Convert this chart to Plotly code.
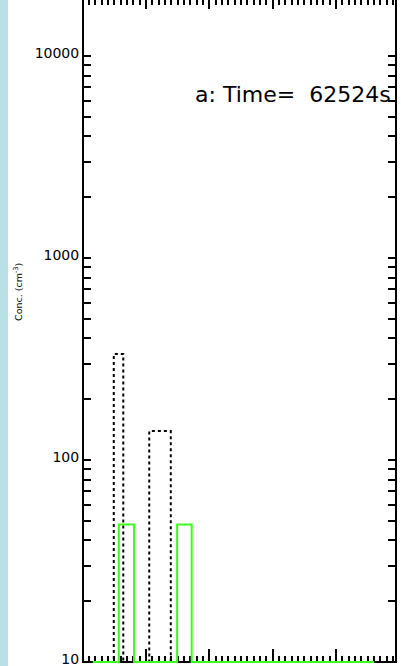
import numpy as np
import plotly.graph_objects as go

# Histogram bin edges and per-bin concentrations (cm^-3) for the two distributions
edges_dotted = [0.16, 0.49, 0.64, 1.05, 1.39, 4.60]
conc_dotted = [0, 335, 0, 139, 0]

edges_green = [0.16, 0.57, 0.81, 1.49, 1.72, 4.60]
conc_green = [0, 48, 0, 48, 0]

y_tick_vals = [10, 100, 1000, 10000]
y_tick_text = ["10", "100", "1000", "10000"]
Y_MIN = 10
Y_TOP = 10 ** 4.2772
X_RANGE = [0.02, 4.93]

time_label = "a: Time=  62524s"
y_title = "Conc. (cm<sup>-3</sup>)"

# minor log ticks at 2..9 of each decade
y_minor_vals = [m * d for d in y_tick_vals for m in range(2, 10)]


def step_xy(edges, values):
    """Histogram outline: values clipped to the lower plot bound like IDL does."""
    y = np.clip(np.asarray(values + [values[-1]], dtype=float), Y_MIN, None)
    return edges, y


fig = go.Figure()

xd, yd = step_xy(edges_dotted, conc_dotted)
fig.add_trace(go.Scatter(
    x=xd, y=yd, mode="lines", line_shape="hv",
    line=dict(color="black", width=2, dash="dot"),
    showlegend=False, hoverinfo="skip",
))

xg, yg = step_xy(edges_green, conc_green)
fig.add_trace(go.Scatter(
    x=xg, y=yg, mode="lines", line_shape="hv",
    line=dict(color="#3cff1e", width=2),
    showlegend=False, hoverinfo="skip",
))

tickfont = dict(family="DejaVu Sans", size=14, color="black")

fig.update_layout(
    width=401, height=666,
    margin=dict(l=84, r=6, t=0, b=3, pad=0, autoexpand=False),
    paper_bgcolor="white", plot_bgcolor="white",
    xaxis=dict(
        range=X_RANGE, showgrid=False, zeroline=False, showline=False,
        ticks="inside", ticklen=14, tickwidth=2, tickcolor="black",
        tick0=0, dtick=1, showticklabels=False, automargin=False,
        minor=dict(ticks="inside", ticklen=7, tickwidth=2, tickcolor="black",
                   dtick=0.1, showgrid=False),
        layer="below traces",
    ),
    xaxis2=dict(
        overlaying="x", side="top", range=X_RANGE, showgrid=False,
        zeroline=False, showline=False, automargin=False,
        ticks="inside", ticklen=9, tickwidth=2, tickcolor="black",
        tick0=0, dtick=1, showticklabels=False,
        minor=dict(ticks="inside", ticklen=5, tickwidth=2, tickcolor="black",
                   dtick=0.1, showgrid=False),
    ),
    yaxis=dict(
        type="log", range=[np.log10(Y_MIN) - 1 / 202, np.log10(Y_TOP)],
        showgrid=False, zeroline=False, automargin=False,
        showline=True, linecolor="black", linewidth=2, mirror="allticks",
        ticks="inside", ticklen=7, tickwidth=2, tickcolor="black",
        tickmode="array", tickvals=y_tick_vals, ticktext=y_tick_text,
        tickfont=tickfont, ticklabeloverflow="allow", ticklabelshift=-3,
        minor=dict(ticks="inside", ticklen=4, tickwidth=2, tickcolor="black",
                   tickmode="array", tickvals=y_minor_vals, showgrid=False),
        layer="below traces",
    ),
)

# invisible point so the top tick axis is rendered
fig.add_trace(go.Scatter(x=[X_RANGE[0]], y=[Y_MIN], xaxis="x2", mode="markers",
                         marker=dict(opacity=0), showlegend=False, hoverinfo="skip"))

# bottom frame line, drawn beneath the histogram outlines
fig.add_shape(type="line", xref="x domain", x0=0, x1=1, yref="y", y0=Y_MIN, y1=Y_MIN,
              line=dict(color="black", width=2), layer="below")

# light blue strip at the left edge of the page
fig.add_shape(type="rect", xref="paper", yref="paper",
              x0=-84 / 311, x1=-76 / 311, y0=-0.01, y1=1.01,
              fillcolor="rgb(185,224,228)", line=dict(width=0), layer="below")

fig.add_annotation(
    text=time_label, xref="paper", yref="paper", x=0.672, y=1 - 95 / 663,
    xanchor="center", yanchor="middle", showarrow=False,
    font=dict(family="DejaVu Sans", size=22, color="black"),
)

fig.add_annotation(
    text=y_title, xref="paper", yref="paper", x=-66 / 311, y=1 - 292 / 663,
    xanchor="center", yanchor="middle", showarrow=False, textangle=-90,
    font=dict(family="DejaVu Sans", size=9.5, color="black"),
)

fig.write_html("out.html")
